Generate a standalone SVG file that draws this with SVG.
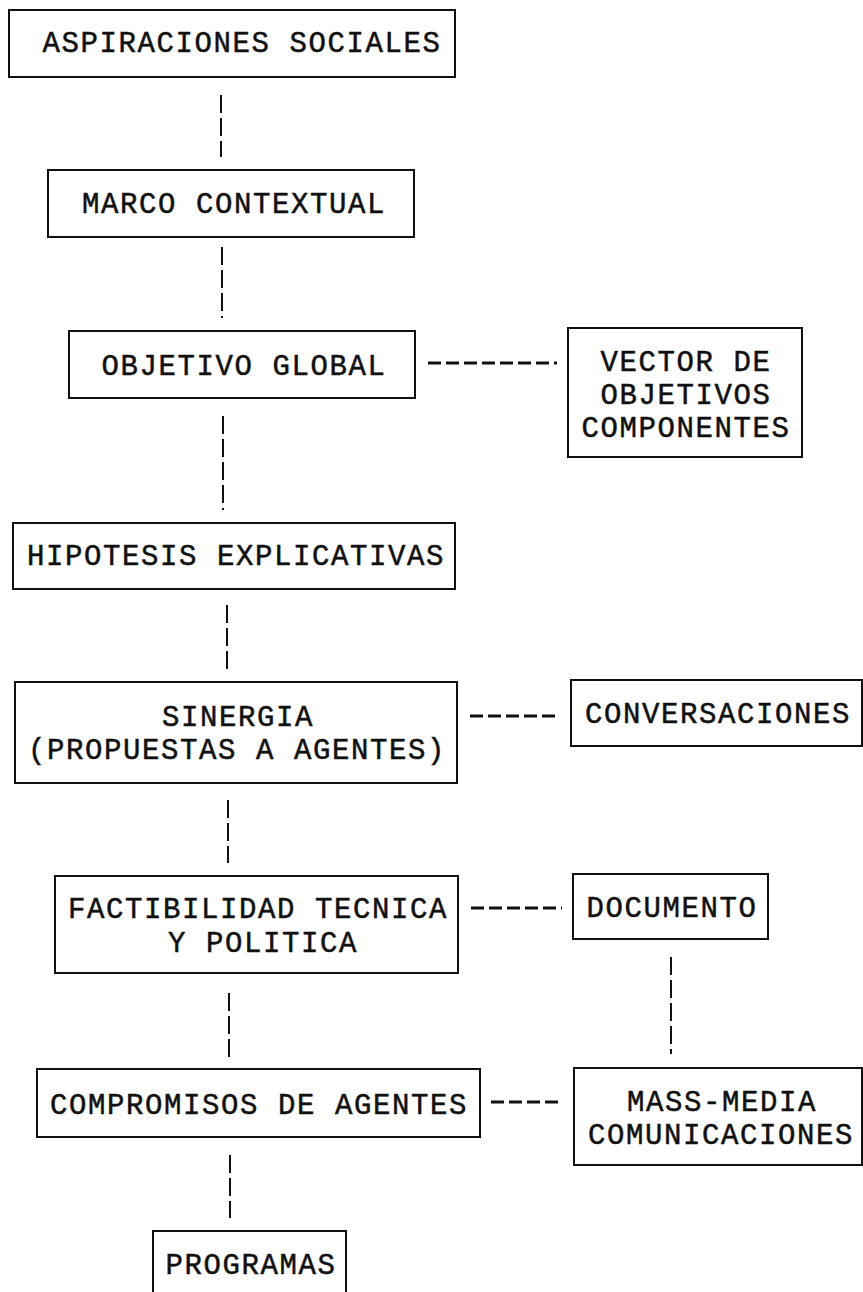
<svg xmlns="http://www.w3.org/2000/svg" width="863" height="1292" viewBox="0 0 863 1292">
<style>
.box{fill:#fff;stroke:#111;stroke-width:2}
.t{font-family:"Liberation Mono","Courier New",monospace;font-size:29px;letter-spacing:1.6px;fill:#111;stroke:#111;stroke-width:0.5;text-anchor:middle}
.v{stroke:#111;stroke-width:2;stroke-dasharray:18 5;fill:none}
.h{stroke:#111;stroke-width:3;stroke-dasharray:13 5;fill:none}
</style>
<rect width="863" height="1292" fill="#fff"/>
<g id="connectors">
<line class="v" x1="221" y1="95" x2="221" y2="157"/>
<line class="v" x1="222" y1="247" x2="222" y2="318"/>
<line class="v" x1="223" y1="416" x2="223" y2="510"/>
<line class="v" x1="227" y1="605" x2="227" y2="671"/>
<line class="v" x1="228" y1="800" x2="228" y2="863"/>
<line class="v" x1="229" y1="993" x2="229" y2="1057"/>
<line class="v" x1="230" y1="1155" x2="230" y2="1218"/>
<line class="v" x1="671" y1="957" x2="671" y2="1054"/>
<line class="h" x1="428" y1="363" x2="557" y2="363"/>
<line class="h" x1="470" y1="716" x2="560" y2="716"/>
<line class="h" x1="471" y1="908" x2="562" y2="908"/>
<line class="h" x1="491" y1="1102" x2="563" y2="1102"/>
</g>
<g id="aspiraciones">
<rect class="box" x="9" y="10" width="446" height="67"/>
<text class="t" x="242" y="52">ASPIRACIONES SOCIALES</text>
</g>
<g id="marco">
<rect class="box" x="48" y="170" width="366" height="67"/>
<text class="t" x="234" y="213">MARCO CONTEXTUAL</text>
</g>
<g id="objetivo">
<rect class="box" x="69" y="331" width="346" height="67"/>
<text class="t" x="244" y="375">OBJETIVO GLOBAL</text>
</g>
<g id="vector">
<rect class="box" x="568" y="328" width="234" height="129"/>
<text class="t" x="686" y="371">VECTOR DE</text>
<text class="t" x="686" y="404">OBJETIVOS</text>
<text class="t" x="686" y="437">COMPONENTES</text>
</g>
<g id="hipotesis">
<rect class="box" x="13" y="523" width="442" height="66"/>
<text class="t" x="236" y="565">HIPOTESIS EXPLICATIVAS</text>
</g>
<g id="sinergia">
<rect class="box" x="15" y="682" width="442" height="101"/>
<text class="t" x="238" y="726">SINERGIA</text>
<text class="t" x="237" y="759">(PROPUESTAS A AGENTES)</text>
</g>
<g id="conversaciones">
<rect class="box" x="571" y="680" width="291" height="66"/>
<text class="t" x="718" y="723">CONVERSACIONES</text>
</g>
<g id="factibilidad">
<rect class="box" x="55" y="876" width="403" height="97"/>
<text class="t" x="258" y="918">FACTIBILIDAD TECNICA</text>
<text class="t" x="263" y="952">Y POLITICA</text>
</g>
<g id="documento">
<rect class="box" x="573" y="874" width="195" height="65"/>
<text class="t" x="672" y="917">DOCUMENTO</text>
</g>
<g id="compromisos">
<rect class="box" x="37" y="1069" width="443" height="68"/>
<text class="t" x="259" y="1114">COMPROMISOS DE AGENTES</text>
</g>
<g id="massmedia">
<rect class="box" x="574" y="1068" width="288" height="97"/>
<text class="t" x="722" y="1111">MASS-MEDIA</text>
<text class="t" x="721" y="1144">COMUNICACIONES</text>
</g>
<g id="programas">
<rect class="box" x="153" y="1231" width="193" height="65"/>
<text class="t" x="251" y="1274">PROGRAMAS</text>
</g>
</svg>
